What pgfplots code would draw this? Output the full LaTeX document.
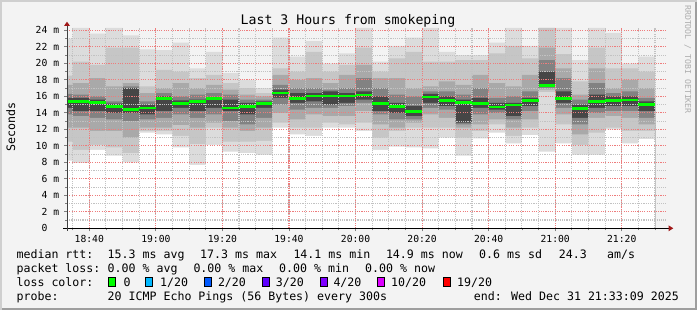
\documentclass[border=0pt]{standalone}
\usepackage{fontspec}
\setmainfont{DejaVu Sans Mono}
\usepackage{pgfplots}
\pgfplotsset{compat=1.18}
\usepackage{pgfplotstable}
\definecolor{bgc}{HTML}{F3F3F3}
\definecolor{shadeA}{HTML}{CFCFCF}
\definecolor{shadeB}{HTML}{9E9E9E}
\definecolor{mgridc}{HTML}{EE7C7C}
\definecolor{gridc}{HTML}{C2C2C2}
\definecolor{arrowc}{HTML}{A01818}
\definecolor{sA}{HTML}{DCDCDC}
\definecolor{sB}{HTML}{C6C6C6}
\definecolor{sC}{HTML}{A9A9A9}
\definecolor{sD}{HTML}{828282}
\definecolor{sE}{HTML}{464646}
\definecolor{medgreen}{HTML}{00FF00}
\definecolor{l0}{HTML}{00FF00}
\definecolor{l1}{HTML}{00B8FF}
\definecolor{l2}{HTML}{0059FF}
\definecolor{l3}{HTML}{5E00FF}
\definecolor{l4}{HTML}{7E00FF}
\definecolor{l10}{HTML}{DD00FF}
\definecolor{l19}{HTML}{FF0000}
\definecolor{wmc}{HTML}{ADADAD}

\pgfplotstableread{
t      T     U2    U3    U4    CH    M      CL    L4    L3    L2    B
33.15  23.0  18.5  17.4  16.3  15.8  15.35  14.6  13.8  12.2  10.5  8.2
35     24.3  20.2  17.6  16.2  15.8  15.35  14.2  13.6  12.2  9.5   7.9
40     23.6  19.8  18.2  16.0  15.6  15.25  14.2  13.4  11.8  10.1  9.5
45     24.3  21.9  17.2  15.4  15.1  14.8   14.0  13.2  11.8  9.8   8.8
50     23.4  21.9  17.6  17.2  17.0  14.4   14.0  13.0  11.0  9.1   8.0
55     21.7  17.2  16.4  15.4  15.0  14.6   13.8  13.2  12.2  11.8  11.6
60     21.6  19.2  17.0  16.4  16.0  15.75  14.2  13.4  12.2  11.8  11.4
65     22.5  19.0  17.6  16.0  15.5  15.1   14.6  13.8  12.5  11.2  9.8
70     19.4  18.2  17.0  16.2  15.6  15.35  14.2  13.4  12.2  10.2  7.7
75     21.4  18.6  17.4  16.4  15.9  15.7   14.6  13.8  12.8  12.2  10.1
80     18.8  17.6  16.8  16.2  15.6  14.6   14.2  13.0  12.2  10.5  9.3
85     18.0  17.0  16.2  15.6  15.2  14.8   13.8  12.6  11.8  10.5  9.1
90     17.0  16.4  16.0  15.6  15.4  15.1   14.6  13.4  12.2  10.6  8.9
95     23.1  19.4  18.6  17.4  16.8  16.4   15.8  15.0  14.0  12.8  12.2
100    20.8  19.0  18.0  17.0  16.4  15.7   15.2  14.4  13.2  12.2  11.4
105    22.7  21.4  18.2  17.0  16.4  16.05  15.4  14.6  13.8  12.2  11.2
110    20.0  19.0  17.6  16.8  16.6  16.05  15.0  14.6  13.6  12.8  12.2
115    21.2  19.8  18.6  17.0  16.4  16.05  15.2  14.8  13.6  12.6  12.2
120    24.3  21.9  19.8  18.2  16.6  16.15  15.6  15.2  14.2  12.8  11.8
125    20.2  19.0  18.2  17.0  16.0  15.15  14.2  13.8  12.6  11.0  9.5
130    22.1  20.6  18.2  16.2  15.2  14.75  14.0  13.2  12.2  11.8  9.9
135    23.1  21.4  17.0  16.0  14.8  14.15  13.6  13.2  12.8  12.2  9.8
140    24.3  20.2  17.2  16.6  16.3  15.9   15.2  14.6  13.8  12.2  9.7
145    21.4  20.2  17.8  16.6  16.0  15.5   14.8  14.4  13.4  12.2  11.0
150    21.0  20.4  17.4  16.2  15.6  15.25  12.8  12.6  12.2  11.0  8.8
155    21.0  20.4  18.6  17.0  15.8  15.15  14.6  13.8  12.6  11.8  10.9
160    22.5  21.2  17.6  15.8  15.2  14.7   14.4  14.0  13.2  12.6  11.6
165    24.3  22.1  17.2  16.0  15.2  14.95  13.6  13.2  12.2  11.2  10.3
170    22.1  20.6  18.6  16.6  15.8  15.45  14.8  14.2  13.2  12.2  11.3
175    24.3  24.3  21.9  20.4  19.0  17.3   17.1  17.0  16.8  16.5  9.3
180    24.3  21.1  19.4  18.2  16.6  15.7   15.2  14.6  13.8  12.6  10.3
185    20.4  17.8  16.2  15.6  15.0  14.5   13.4  12.6  11.4  10.1  8.9
190    24.3  21.9  19.4  17.6  16.2  15.35  14.6  14.0  13.4  11.6  8.9
195    23.7  19.4  17.0  16.4  16.0  15.5   14.8  14.2  13.6  12.2  12.0
200    20.0  19.4  18.0  16.6  16.0  15.55  14.8  14.2  13.4  11.8  10.3
205    20.8  19.0  17.0  15.8  15.4  15.0   14.2  13.4  12.6  11.8  10.8
210    20.8  19.0  17.0  15.8  15.4  15.0   14.2  13.4  12.6  11.8  10.8
}\smoke

\newcommand{\legfont}{\fontsize{11.6bp}{14bp}\selectfont}
\newcommand{\tickfont}{\fontsize{9.7bp}{11bp}\selectfont}

\begin{document}
\begin{tikzpicture}
% background and frame
\fill[bgc] (0bp,0bp) rectangle (697bp,310bp);
\fill[shadeA] (0bp,0bp) rectangle (2bp,310bp);
\fill[shadeA] (0bp,308bp) rectangle (697bp,310bp);
\fill[shadeB] (2bp,0bp) rectangle (697bp,2bp);
\fill[shadeB] (695bp,0bp) rectangle (697bp,308bp);

\begin{axis}[
  at={(67bp,81.7bp)}, anchor=south west,
  scale only axis, width=599bp, height=200.3bp,
  xmin=33.3, xmax=213.3, ymin=0, ymax=24.28,
  set layers, axis on top,
  axis background/.style={fill=white},
  axis lines=left, axis line style={draw=none},
  grid=none,
  xtick={40,60,...,200},
  xticklabels={18:40,19:00,19:20,19:40,20:00,20:20,20:40,21:00,21:20},
  minor xtick={35,45,50,55,65,70,75,85,90,95,105,110,115,125,130,135,145,150,155,165,170,175,185,190,195,205,210},
  ytick={0,2,...,24},
  yticklabels={0\phantom{ m},2 m,4 m,6 m,8 m,10 m,12 m,14 m,16 m,18 m,20 m,22 m,24 m},
  minor ytick={1,3,...,23},
  tick align=outside, major tick length=3bp, minor tick length=2bp,
  major tick style={line width=0.8bp},
  minor tick style={line width=0.8bp},
  xticklabel style={font=\tickfont, inner sep=0pt, anchor=north, yshift=-3.7bp},
  yticklabel style={font=\tickfont, inner sep=0pt, anchor=east, xshift=-4.7bp},
]
% smoke: outer bands down to the axis, inner ones on top
\addplot[const plot, fill=sA, draw=none] table[x=t,y=T]{\smoke} \closedcycle;
\addplot[const plot, fill=sB, draw=none] table[x=t,y=U2]{\smoke} \closedcycle;
\addplot[const plot, fill=sC, draw=none] table[x=t,y=U3]{\smoke} \closedcycle;
\addplot[const plot, fill=sD, draw=none] table[x=t,y=U4]{\smoke} \closedcycle;
\addplot[const plot, fill=sE, draw=none] table[x=t,y=CH]{\smoke} \closedcycle;
\addplot[const plot, fill=sD, draw=none] table[x=t,y=CL]{\smoke} \closedcycle;
\addplot[const plot, fill=sC, draw=none] table[x=t,y=L4]{\smoke} \closedcycle;
\addplot[const plot, fill=sB, draw=none] table[x=t,y=L3]{\smoke} \closedcycle;
\addplot[const plot, fill=sA, draw=none] table[x=t,y=L2]{\smoke} \closedcycle;
\addplot[const plot, fill=white, draw=none] table[x=t,y=B]{\smoke} \closedcycle;
% grid, over the smoke as rrdtool draws it
\begin{pgfonlayer}{axis foreground}
\pgfplotsinvokeforeach{35,40,...,210}{
  \draw[gridc, line width=1.1bp, dash pattern=on 1.1bp off 1.1bp] (axis cs:#1,0) -- (axis cs:#1,24.28);}
\pgfplotsinvokeforeach{1,3,...,23}{
  \draw[gridc, line width=1.1bp, dash pattern=on 1.1bp off 1.1bp] (axis cs:33.3,#1) -- (axis cs:213.3,#1);}
\pgfplotsinvokeforeach{40,60,...,200}{
  \draw[mgridc, line width=1.15bp, dash pattern=on 1.15bp off 1.15bp] (axis cs:#1,0) -- (axis cs:#1,24.28);}
\pgfplotsinvokeforeach{2,4,...,24}{
  \draw[mgridc, line width=1.15bp, dash pattern=on 1.15bp off 1.15bp] (axis cs:33.3,#1) -- (axis cs:213.3,#1);}
\end{pgfonlayer}
% median
\addplot[jump mark left, draw=medgreen, line width=2.7bp, on layer=axis foreground] table[x=t,y=M]{\smoke};
\begin{pgfonlayer}{axis foreground}
\draw[black, line width=1bp] ([xshift=-3.7bp]rel axis cs:0,0) -- ([xshift=2.5bp]rel axis cs:1,0);
\fill[arrowc] ([xshift=7.3bp]rel axis cs:1,0) -- ([xshift=2.5bp,yshift=3bp]rel axis cs:1,0) -- ([xshift=2.5bp,yshift=-3bp]rel axis cs:1,0) -- cycle;
\draw[black!75, line width=1bp] ([yshift=-2.7bp]rel axis cs:0,0) -- ([yshift=2bp]rel axis cs:0,1);
\fill[arrowc] ([yshift=6.3bp]rel axis cs:0,1) -- ([xshift=-3bp,yshift=2bp]rel axis cs:0,1) -- ([xshift=3bp,yshift=2bp]rel axis cs:0,1) -- cycle;
\end{pgfonlayer}
\end{axis}

% title, y label, watermark
\node[anchor=base, inner sep=0pt, font=\fontsize{13.2bp}{15bp}\selectfont] at (348bp,285.7bp) {Last 3 Hours from smokeping};
\node[anchor=base, rotate=90, inner sep=0pt, font=\legfont] at (15bp,183bp) {Seconds};
\node[anchor=base west, rotate=-90, inner sep=0pt, text=wmc, font=\fontsize{8.2bp}{9bp}\selectfont] at (685bp,305bp) {RRDTOOL / TOBI OETIKER};

% legend
\begin{scope}[every node/.style={anchor=base west, inner sep=0pt, font=\legfont}]
\node at (16.4bp,51.5bp) {median rtt:};
\node at (107.5bp,51.5bp) {15.3 ms avg};
\node at (200bp,51.5bp) {17.3 ms max};
\node at (293.3bp,51.5bp) {14.1 ms min};
\node at (385.8bp,51.5bp) {14.9 ms now};
\node at (479bp,51.5bp) {0.6 ms sd};
\node at (558.7bp,51.5bp) {24.3};
\node at (607bp,51.5bp) {am/s};
\node at (16.4bp,37.5bp) {packet loss:};
\node at (107.5bp,37.5bp) {0.00 \% avg};
\node at (193.3bp,37.5bp) {0.00 \% max};
\node at (279bp,37.5bp) {0.00 \% min};
\node at (365bp,37.5bp) {0.00 \% now};
\node at (16.4bp,23.5bp) {loss color:};
\node at (123.5bp,23.5bp) {0};
\node at (160bp,23.5bp) {1/20};
\node at (217.8bp,23.5bp) {2/20};
\node at (275.6bp,23.5bp) {3/20};
\node at (333.3bp,23.5bp) {4/20};
\node at (391bp,23.5bp) {10/20};
\node at (456.9bp,23.5bp) {19/20};
\node at (16.4bp,9.5bp) {probe:};
\node at (107.5bp,9.5bp) {20 ICMP Echo Pings (56 Bytes) every 300s};
\node[anchor=base east] at (679bp,9.5bp) {end: Wed Dec 31 21:33:09 2025};
\end{scope}
\begin{scope}[line width=1bp]
\filldraw[fill=l0, draw=black] (108.9bp,23.8bp) rectangle (115.9bp,32.2bp);
\filldraw[fill=l1, draw=black] (145.8bp,23.8bp) rectangle (152.8bp,32.2bp);
\filldraw[fill=l2, draw=black] (204bp,23.8bp) rectangle (211bp,32.2bp);
\filldraw[fill=l3, draw=black] (262.3bp,23.8bp) rectangle (269.3bp,32.2bp);
\filldraw[fill=l4, draw=black] (320.1bp,23.8bp) rectangle (327.1bp,32.2bp);
\filldraw[fill=l10, draw=black] (377.8bp,23.8bp) rectangle (384.8bp,32.2bp);
\filldraw[fill=l19, draw=black] (443.2bp,23.8bp) rectangle (450.2bp,32.2bp);
\end{scope}
\end{tikzpicture}
\end{document}
